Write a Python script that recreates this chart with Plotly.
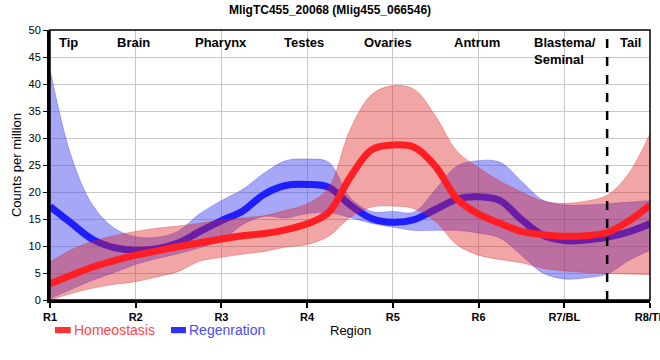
import plotly.graph_objects as go

# ---- data ----
positions = [1, 1.25, 1.5, 1.75, 2, 2.25, 2.5, 2.75, 3, 3.25, 3.5, 3.75, 4, 4.25,
             4.5, 4.75, 5, 5.25, 5.5, 5.75, 6, 6.25, 6.5, 6.75, 7, 7.25, 7.5, 7.75, 8]

homeo_mean = [3.0, 4.6, 6.1, 7.3, 8.3, 9.1, 9.9, 10.6, 11.3, 11.9, 12.3, 13.0, 14.1, 16.2,
              22.7, 27.8, 28.7, 28.3, 24.7, 18.7, 15.9, 14.2, 12.7, 12.1, 11.8, 11.9, 12.5, 14.6, 17.6]
homeo_upper = [7.0, 9.3, 10.9, 11.9, 12.7, 13.3, 13.7, 14.2, 14.8, 15.2, 15.6, 16.6, 17.8, 20.8,
               31.5, 38.0, 39.7, 39.0, 34.0, 27.5, 24.5, 22.0, 20.0, 18.3, 17.9, 18.3, 19.4, 23.4, 30.8]
homeo_lower = [0.0, 1.2, 2.2, 2.9, 3.4, 4.3, 5.3, 7.2, 7.9, 8.5, 9.0, 9.8, 10.3, 11.8,
               15.3, 17.2, 17.4, 16.9, 14.5, 10.2, 8.3, 7.5, 6.9, 5.9, 5.4, 5.1, 4.9, 4.8, 4.7]

regen_mean = [17.3, 14.2, 11.2, 9.7, 9.2, 9.5, 10.6, 12.7, 14.7, 16.5, 19.6, 21.2, 21.4, 20.9,
              17.6, 15.1, 14.4, 14.9, 16.8, 18.7, 19.1, 18.4, 14.9, 12.0, 11.0, 11.1, 11.6, 12.6, 14.1]
regen_upper = [42.7, 26.5, 17.5, 13.3, 11.7, 11.6, 12.8, 16.0, 18.4, 20.5, 23.5, 25.8, 26.1, 25.5,
               19.0, 16.4, 16.4, 16.3, 20.5, 24.8, 25.8, 25.5, 22.0, 18.5, 17.6, 17.6, 17.8, 18.1, 18.4]
regen_lower = [0.3, 2.0, 3.7, 5.1, 6.6, 7.7, 8.6, 9.7, 11.0, 14.0, 15.5, 15.2, 16.0, 16.2,
               15.3, 14.2, 13.5, 12.9, 12.9, 12.9, 12.4, 11.5, 8.3, 5.0, 3.9, 4.1, 4.8, 7.3, 9.2]

tick_positions = [1, 2, 3, 4, 5, 6, 7, 8]
tick_labels = ["R1", "R2", "R3", "R4", "R5", "R6", "R7/BL", "R8/TL"]

region_names = ["Tip", "Brain", "Pharynx", "Testes", "Ovaries", "Antrum", "Blastema/<br>Seminal", "Tail"]
region_positions = [1.22, 1.97, 2.99, 3.96, 4.94, 5.98, 7.01, 7.77]

boundary = 7.5
series_names = ["Homeostasis", "Regenration"]

FONT = "Liberation Sans, Arial, sans-serif"
RED_LINE = "rgb(255,30,35)"
BLUE_LINE = "rgb(30,30,255)"
RED_FILL = "rgba(220,30,30,0.40)"
BLUE_FILL = "rgba(60,60,240,0.45)"

fig = go.Figure()

# Regeneration band + line
fig.add_trace(go.Scatter(x=positions, y=regen_lower, mode="lines",
                         line=dict(shape="spline", width=0.8, color=BLUE_FILL),
                         showlegend=False, hoverinfo="skip"))
fig.add_trace(go.Scatter(x=positions, y=regen_upper, mode="lines", fill="tonexty",
                         fillcolor=BLUE_FILL,
                         line=dict(shape="spline", width=0.8, color=BLUE_FILL),
                         showlegend=False, hoverinfo="skip"))
fig.add_trace(go.Scatter(x=positions, y=regen_mean, mode="lines", name=series_names[1],
                         line=dict(shape="spline", width=7, color=BLUE_LINE),
                         showlegend=False))

# Homeostasis band + line
fig.add_trace(go.Scatter(x=positions, y=homeo_lower, mode="lines",
                         line=dict(shape="spline", width=0.8, color=RED_FILL),
                         showlegend=False, hoverinfo="skip"))
fig.add_trace(go.Scatter(x=positions, y=homeo_upper, mode="lines", fill="tonexty",
                         fillcolor=RED_FILL,
                         line=dict(shape="spline", width=0.8, color=RED_FILL),
                         showlegend=False, hoverinfo="skip"))
fig.add_trace(go.Scatter(x=positions, y=homeo_mean, mode="lines", name=series_names[0],
                         line=dict(shape="spline", width=7, color=RED_LINE),
                         showlegend=False))

# dashed boundary line
fig.add_shape(type="line", x0=boundary, x1=boundary, y0=0, y1=50, xref="x", yref="y",
              line=dict(color="black", width=2.5, dash="dash"))
# thin frame top/right
fig.add_shape(type="rect", x0=0, x1=1, y0=0, y1=1, xref="paper", yref="paper",
              line=dict(color="black", width=1.5), layer="above")

# region labels
for name, pos in zip(region_names, region_positions):
    fig.add_annotation(x=pos, y=0.99, xref="x", yref="paper", text="<b>%s</b>" % name,
                       showarrow=False, xanchor="center", yanchor="top", align="left",
                       font=dict(family=FONT, size=13, color="black"))

# custom legend
fig.add_shape(type="rect", xref="paper", yref="paper", x0=0.0083, x1=0.0345, y0=-0.1, y1=-0.123,
              line=dict(width=0), fillcolor="#ff3030")
fig.add_shape(type="rect", xref="paper", yref="paper", x0=0.2017, x1=0.2267, y0=-0.1, y1=-0.123,
              line=dict(width=0), fillcolor="#3030ff")
fig.add_annotation(x=0.036, y=-0.112, xref="paper", yref="paper", text=series_names[0],
                   showarrow=False, xanchor="left", yanchor="middle",
                   font=dict(family=FONT, size=14, color="#ff4545"))
fig.add_annotation(x=0.228, y=-0.112, xref="paper", yref="paper", text=series_names[1],
                   showarrow=False, xanchor="left", yanchor="middle",
                   font=dict(family=FONT, size=14, color="#4a4aff"))
fig.add_annotation(x=0.5, y=-0.112, xref="paper", yref="paper", text="Region",
                   showarrow=False, xanchor="center", yanchor="middle",
                   font=dict(family=FONT, size=13, color="black"))

fig.update_layout(
    width=660, height=360,
    margin=dict(l=50, r=10, t=30, b=60),
    paper_bgcolor="white", plot_bgcolor="white",
    font=dict(family=FONT, size=12, color="black"),
    title=dict(text="<b>MligTC455_20068 (Mlig455_066546)</b>", x=0.5, xanchor="center",
               y=0.985, yanchor="top", yref="container",
               font=dict(family=FONT, size=12, color="black")),
    showlegend=False,
)
fig.update_xaxes(range=[1, 8], tickvals=tick_positions, automargin=False,
                 ticktext=["<b>%s</b>" % t for t in tick_labels],
                 tickfont=dict(family=FONT, size=11, color="black"),
                 ticklabeloverflow="allow",
                 showgrid=True, gridcolor="#c8c8c8", gridwidth=1,
                 showline=True, linecolor="black", linewidth=3,
                 ticks="outside", ticklen=5, tickwidth=2, tickcolor="black",
                 zeroline=False)
fig.update_yaxes(range=[0, 50], tickvals=list(range(0, 51, 5)), automargin=False,
                 tickfont=dict(family=FONT, size=11, color="black"),
                 showgrid=True, gridcolor="#c8c8c8", gridwidth=1,
                 showline=True, linecolor="black", linewidth=3,
                 ticks="outside", ticklen=4, tickwidth=1, tickcolor="black",
                 zeroline=False,
                 title=dict(text="Counts per million", standoff=4,
                            font=dict(family=FONT, size=13, color="black")))

fig.write_html("out.html", config={"displayModeBar": False},
               post_script="document.body.style.margin='0';")
